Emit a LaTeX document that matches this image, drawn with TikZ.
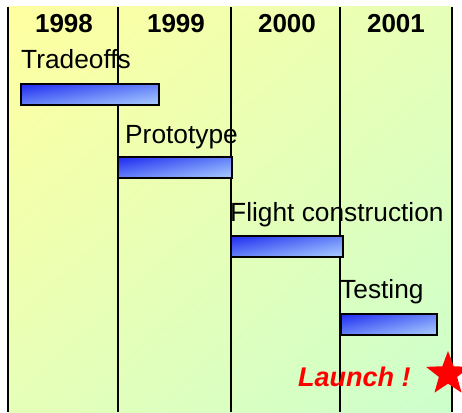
\documentclass[tikz,border=0pt]{standalone}
\usepackage{fontspec}
\setmainfont{Liberation Sans}
\usepackage{xcolor}
\usetikzlibrary{shapes.geometric, shadings}

\definecolor{paleyellow}{RGB}{255,255,160}
\definecolor{midlime}{RGB}{230,255,184}
\definecolor{palegreen}{RGB}{204,255,204}
\definecolor{bardark}{RGB}{30,40,240}
\definecolor{barmid}{RGB}{100,130,248}
\definecolor{barlight}{RGB}{170,205,255}

\begin{document}
\begin{tikzpicture}[x=1pt, y=-1pt,
    year/.style={anchor=base, inner sep=0, font=\fontsize{26}{30}\selectfont\bfseries},
    task/.style={anchor=base west, inner sep=0, font=\fontsize{26.3}{30}\selectfont},
    bar/.style={draw, line width=2pt, minimum height=21pt, inner sep=0,
        upper left=bardark, upper right=barmid, lower left=barmid, lower right=barlight}]
                        \useasboundingbox (0, 0) rectangle (462, 412);
                        \shade[upper left=paleyellow, upper right=midlime, lower left=midlime, lower right=palegreen]
                        (8, 7) rectangle (452, 412);
                        \draw[line width=2pt] (8, 7) -- (8, 412) (118, 7) -- (118, 412) (231, 7) -- (231, 412)
                        (340, 7) -- (340, 412) (452, 7) -- (452, 412);

                        \node[year] (y1998) at (64, 33) {1998};
                        \node[year] (y1999) at (176, 33) {1999};
                        \node[year] (y2000) at (287, 33) {2000};
                        \node[year] (y2001) at (396, 33) {2001};

                        \node[task] (tradeoffs) at (21, 68) {Tradeoffs};
                        \node[bar, minimum width=138pt] (tradeoffsbar) at (90, 94) {};
                        \node[task] (prototype) at (125, 143) {Prototype};
                        \node[bar, minimum width=114pt] (prototypebar) at (175, 167.5) {};
                        \node[task] (flight) at (230, 221) {Flight construction};
                        \node[bar, minimum width=112pt] (flightbar) at (287, 246) {};
                        \node[task] (testing) at (340, 298) {Testing};
                        \node[bar, minimum width=96pt] (testingbar) at (389, 324) {};

                        \node[anchor=base west, inner sep=0, text=red, font=\fontsize{27}{30}\selectfont\bfseries\itshape]
                        (launch) at (298, 386) {Launch !};
                        \node[star, star points=5, star point ratio=2.4, fill=red, inner sep=0, minimum size=46pt]
                        (launchstar) at (448, 374) {};
                    \end{tikzpicture}
\end{document}
